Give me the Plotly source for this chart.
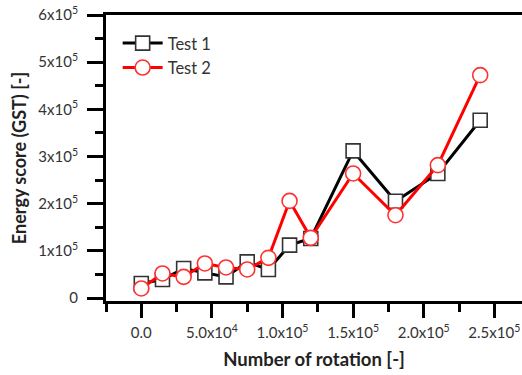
import plotly.graph_objects as go

# Number of rotations at each measurement
rotations = [0, 15000, 30000, 45000, 60000, 75000, 90000, 105000, 120000,
             150000, 180000, 210000, 240000]

# Energy score (GST) for the two tests
test1 = [31000, 39600, 62900, 53600, 45100, 76900, 60800, 112300, 126500,
         312000, 205500, 264200, 377100]
test2 = [20600, 52300, 45100, 73500, 65000, 60800, 85400, 206100, 127800,
         264200, 175800, 281800, 472500]

x_tickvals = [0, 50000, 100000, 150000, 200000, 250000]
x_ticktext = ["0.0", "5.0x10<sup>4</sup>", "1.0x10<sup>5</sup>",
              "1.5x10<sup>5</sup>", "2.0x10<sup>5</sup>", "2.5x10<sup>5</sup>"]
y_tickvals = [0, 100000, 200000, 300000, 400000, 500000, 600000]
y_ticktext = ["0", "1x10<sup>5</sup>", "2x10<sup>5</sup>", "3x10<sup>5</sup>",
              "4x10<sup>5</sup>", "5x10<sup>5</sup>", "6x10<sup>5</sup>"]

FONT = "Lato"

fig = go.Figure()
fig.add_trace(go.Scatter(
    x=rotations, y=test1, name="Test 1", mode="lines+markers",
    line=dict(color="black", width=3),
    marker=dict(symbol="square", size=14, color="white",
                line=dict(color="#333333", width=1.6)),
))
fig.add_trace(go.Scatter(
    x=rotations, y=test2, name="Test 2", mode="lines+markers",
    line=dict(color="#ff0000", width=3),
    marker=dict(symbol="circle", size=15, color="white",
                line=dict(color="#ff3030", width=1.6)),
))

fig.update_layout(
    width=522, height=375,
    margin=dict(l=106, r=0, t=15, b=74),
    paper_bgcolor="white", plot_bgcolor="white",
    font=dict(family=FONT, color="#333333"),
    showlegend=True,
    legend=dict(x=0.028, y=0.962, xanchor="left", yanchor="top",
                bgcolor="rgba(0,0,0,0)", font=dict(size=16.5, color="#333333"),
                itemwidth=40, tracegroupgap=0),
    xaxis=dict(
        range=[-25000, 269600], showgrid=False, zeroline=False,
        showline=True, linecolor="black", linewidth=3, mirror=True,
        ticks="outside", ticklen=14, tickwidth=3, tickcolor="black",
        tickvals=x_tickvals, ticktext=x_ticktext,
        tickfont=dict(size=15, color="#333333"), ticklabelstandoff=2,
        minor=dict(dtick=25000, tick0=0, ticks="outside", ticklen=8,
                   tickwidth=3, tickcolor="black"),
        title=dict(text="<b>Number of rotation [-]</b>",
                   font=dict(size=18.5, color="#222222"), standoff=14),
    ),
    yaxis=dict(
        range=[-6000, 600000], showgrid=False, zeroline=False,
        showline=True, linecolor="black", linewidth=3,
        ticks="outside", ticklen=16, tickwidth=3, tickcolor="black",
        tickvals=y_tickvals, ticktext=y_ticktext,
        tickfont=dict(size=15, color="#333333"), ticklabelstandoff=6,
        minor=dict(dtick=50000, tick0=0, ticks="outside", ticklen=8,
                   tickwidth=3, tickcolor="black"),
        title=dict(text="<b>Energy score (GST) [-]</b>",
                   font=dict(size=18, color="#222222"), standoff=8),
    ),
)

fig.write_html("out.html")
